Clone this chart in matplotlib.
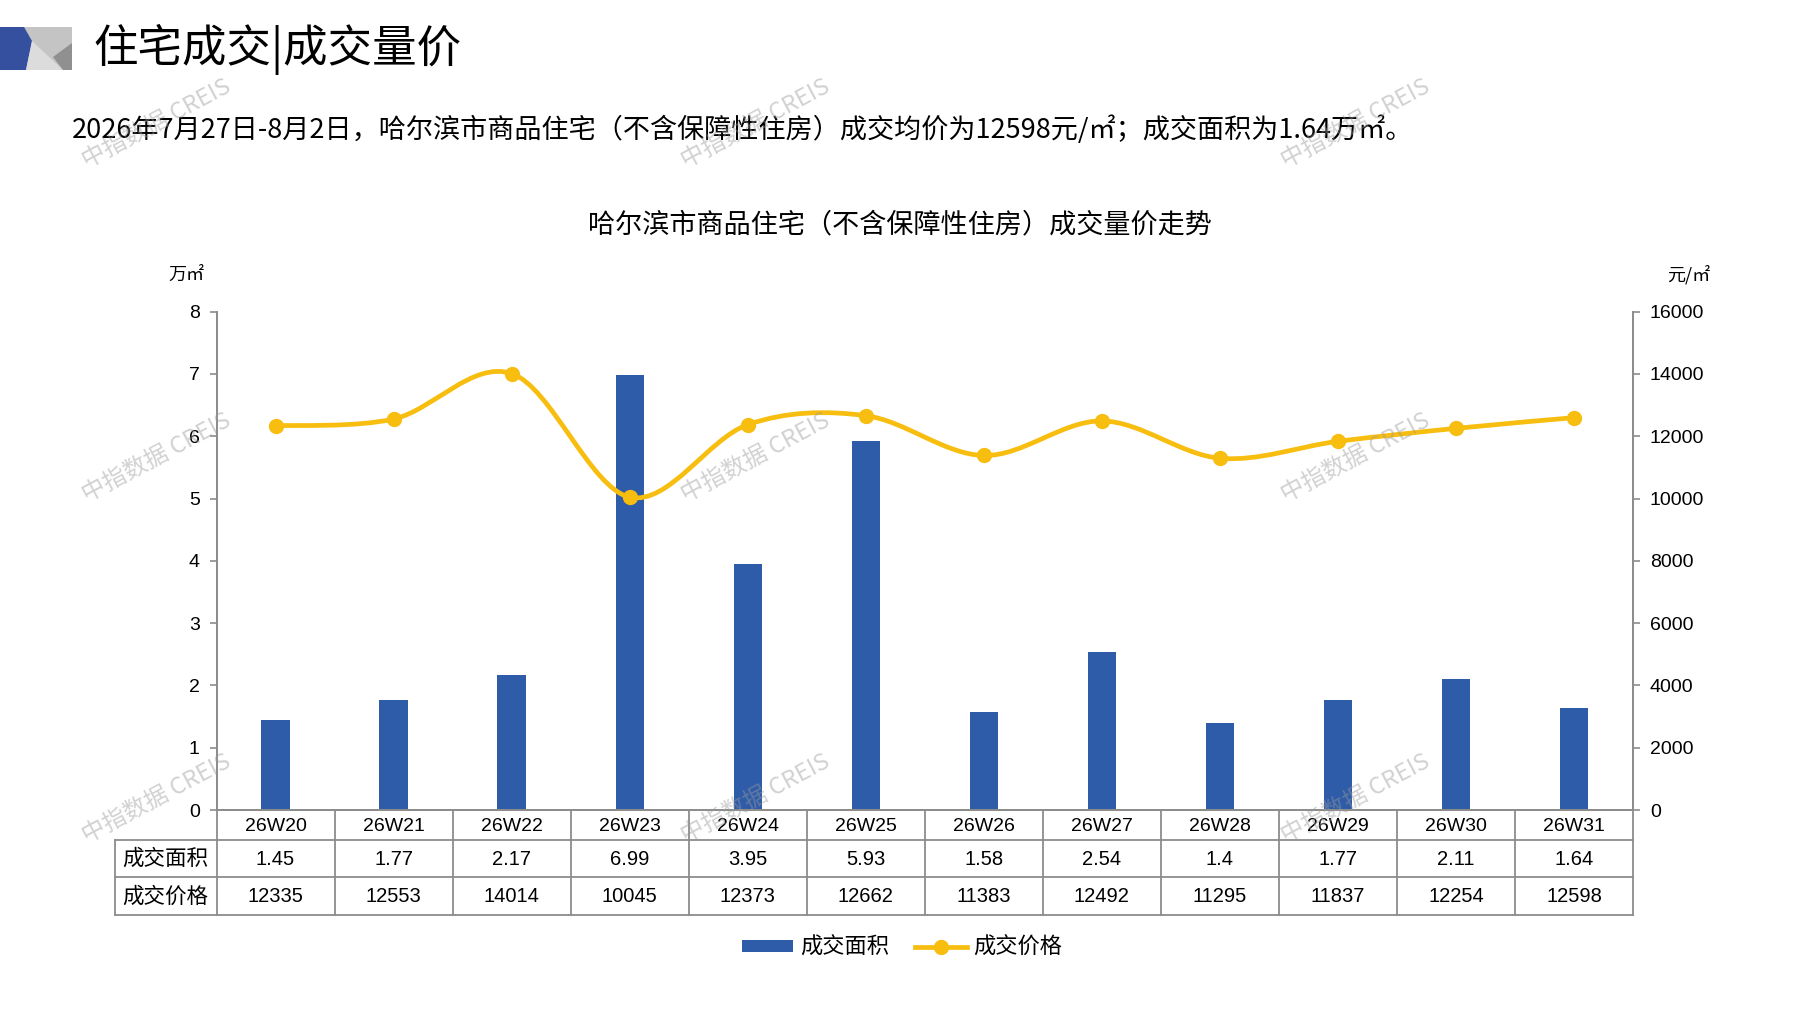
import matplotlib
matplotlib.use("Agg")
import matplotlib.pyplot as plt
from matplotlib.path import Path
from matplotlib.patches import PathPatch, Polygon, Patch
from matplotlib.lines import Line2D
import numpy as np

plt.rcParams['font.family'] = ['Noto Sans CJK SC', 'DejaVu Sans']

# data
weeks = ['26W20', '26W21', '26W22', '26W23', '26W24', '26W25',
         '26W26', '26W27', '26W28', '26W29', '26W30', '26W31']
area = [1.45, 1.77, 2.17, 6.99, 3.95, 5.93, 1.58, 2.54, 1.4, 1.77, 2.11, 1.64]
price = [12335, 12553, 14014, 10045, 12373, 12662, 11383, 12492, 11295, 11837, 12254, 12598]
area_labels = ['1.45', '1.77', '2.17', '6.99', '3.95', '5.93', '1.58', '2.54', '1.4', '1.77', '2.11', '1.64']
row_names = ['成交面积', '成交价格']

BLUE = '#2F5CA8'
GOLD = '#F7BD0F'
GRID = '#8c8c8c'
NUM_FONT = ['Liberation Sans', 'DejaVu Sans']
CJK = ['Noto Sans CJK SC', 'DejaVu Sans']

fig = plt.figure(figsize=(17.97, 10.10), dpi=100)
ax = fig.add_axes([0.1205, 0.198, 0.7883, 0.4934])
ax2 = ax.twinx()

x = np.arange(len(weeks))
ax.bar(x, area, width=0.24, color=BLUE, zorder=2)
ax.set_xlim(-0.5, len(weeks) - 0.5)
ax.set_ylim(0, 8)
ax.set_yticks(range(0, 9))
ax2.set_ylim(0, 16000)
ax2.set_yticks(range(0, 16001, 2000))

for a in (ax, ax2):
    a.spines['top'].set_visible(False)
    for s in ('left', 'right', 'bottom'):
        a.spines[s].set_color(GRID)
        a.spines[s].set_linewidth(1.3)
    a.set_xticks([])
    a.tick_params(axis='y', colors=GRID, length=5, width=1.2, labelsize=14)
    for lab in a.get_yticklabels():
        lab.set_color('black')
        lab.set_family(NUM_FONT)
ax.tick_params(axis='y', pad=7)
ax2.tick_params(axis='y', pad=7)

# smooth price curve through the points (catmull-rom as bezier)
pts = np.column_stack([x, price]).astype(float)
verts = [pts[0]]
codes = [Path.MOVETO]
n = len(pts)
for i in range(n - 1):
    p0 = pts[i - 1] if i > 0 else pts[i]
    p1 = pts[i]
    p2 = pts[i + 1]
    p3 = pts[i + 2] if i + 2 < n else pts[i + 1]
    verts += [p1 + (p2 - p0) / 6, p2 - (p3 - p1) / 6, p2]
    codes += [Path.CURVE4] * 3
ax2.add_patch(PathPatch(Path(verts, codes), fill=False, edgecolor=GOLD, lw=3.4,
                        capstyle='round', zorder=3))
ax2.plot(x, price, 'o', color=GOLD, ms=10, zorder=4)

# data table under the axes
tr = ax.get_xaxis_transform()
rows_y = [0, -0.0602, -0.1345, -0.2097]
left_x = -1.364
lkw = dict(color=GRID, lw=1.3, transform=tr, clip_on=False)
for yy in rows_y[1:]:
    ax.plot([left_x, len(weeks) - 0.5], [yy, yy], **lkw)
for k in range(len(weeks) + 1):
    ax.plot([k - 0.5, k - 0.5], [0, rows_y[-1]], **lkw)
ax.plot([left_x, left_x], [rows_y[1], rows_y[-1]], **lkw)

for i, w in enumerate(weeks):
    ax.text(i, -0.034, w, transform=tr, ha='center', va='center',
            fontsize=14, family=NUM_FONT)
    ax.text(i, -0.0985, area_labels[i], transform=tr, ha='center', va='center',
            fontsize=14.5, family=NUM_FONT)
    ax.text(i, -0.1735, str(price[i]), transform=tr, ha='center', va='center',
            fontsize=14.5, family=NUM_FONT)
for name, yy in zip(row_names, [-0.0985, -0.1735]):
    ax.text((left_x - 0.5) / 2, yy, name, transform=tr, ha='center', va='center',
            fontsize=15.5, family=CJK)

# titles and unit labels
fig.text(0.052, 0.951, '住宅成交|成交量价', fontsize=32, va='center', ha='left', family=CJK)
fig.text(0.040, 0.8718,
         '2026年7月27日-8月2日，哈尔滨市商品住宅（不含保障性住房）成交均价为12598元/㎡；成交面积为1.64万㎡。',
         fontsize=19.5, va='center', ha='left', family=CJK)
fig.text(0.5006, 0.7776, '哈尔滨市商品住宅（不含保障性住房）成交量价走势',
         fontsize=19.5, va='center', ha='center', family=CJK)
fig.text(0.1035, 0.7277, '万㎡', fontsize=13, va='center', ha='center', family=CJK)
fig.text(0.940, 0.7277, '元/㎡', fontsize=13, va='center', ha='center', family=CJK)

# legend
handles = [Patch(facecolor=BLUE, edgecolor='none'),
           Line2D([], [], color=GOLD, lw=3.4, marker='o', ms=10)]
fig.legend(handles, row_names, loc='center', bbox_to_anchor=(0.502, 0.062), ncol=2,
           frameon=False, prop={'family': CJK, 'size': 16}, handlelength=2.3,
           handleheight=0.4, handletextpad=0.3, columnspacing=1.2)

# header icon and watermarks (pixel coordinates)
ov = fig.add_axes([0, 0, 1, 1], zorder=10)
ov.set_xlim(0, 1797)
ov.set_ylim(1010, 0)
ov.axis('off')
ov.patch.set_visible(False)
ov.add_patch(Polygon([(24, 27), (72, 27), (72, 70), (24, 70)], color='#c4c4c4', lw=0))
ov.add_patch(Polygon([(0, 27), (24, 27), (32, 41), (26, 70), (0, 70)], color='#34509e', lw=0))
ov.add_patch(Polygon([(32, 41), (26, 70), (63, 70)], color='#dcdcdc', lw=0))
ov.add_patch(Polygon([(53, 57), (72, 43), (72, 70), (63, 70)], color='#909090', lw=0))

for wx in (157, 756, 1356):
    for wy in (124, 458, 799):
        ov.text(wx, wy, '中指数据 CREIS', rotation=28, ha='center', va='center',
                fontsize=17, color='#9a9a9a', alpha=0.45, family=CJK)

fig.savefig('out.png', dpi=100)
